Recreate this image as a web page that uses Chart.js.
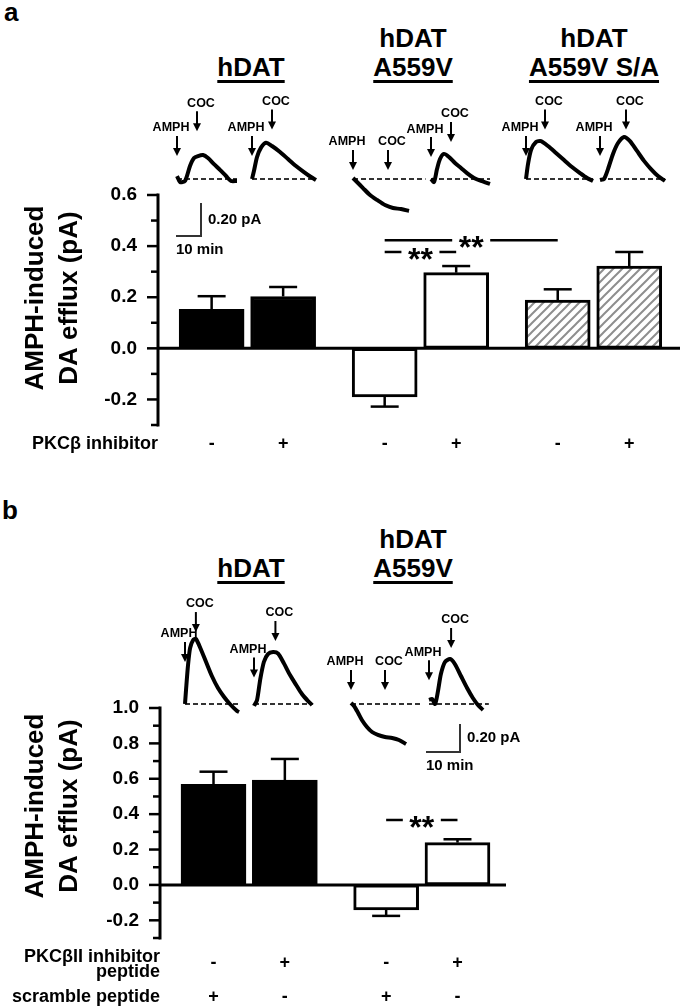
<!DOCTYPE html>
<html>
<head>
<meta charset="utf-8">
<script src="https://cdn.jsdelivr.net/npm/chart.js@4.4.1/dist/chart.umd.min.js"></script>
<style>
  html, body { margin: 0; padding: 0; background: #fff; }
  body { position: relative; width: 681px; height: 1007px; overflow: hidden;
         font-family: 'Liberation Sans', Arial, sans-serif; font-weight: bold; color: #000; }
  canvas { position: absolute; }
  .tag { position: absolute; font-size: 26px; line-height: 27px; }
  .ttl { position: absolute; width: 240px; margin-left: -120px; text-align: center;
         font-size: 26px; line-height: 29px; white-space: nowrap; }
  .ttl u { text-decoration-thickness: 3px; text-underline-offset: 4px; }
</style>
</head>
<body>
<div class="tag" style="left:4px;top:-1px">a</div>
<div class="ttl" style="left:251px;top:24px">&nbsp;<br><u>hDAT</u></div>
<div class="ttl" style="left:413px;top:24px">hDAT<br><u>A559V</u></div>
<div class="ttl" style="left:594px;top:24px">hDAT<br><u>A559V S/A</u></div>
<canvas id="chartA" width="681" height="480" style="left:0;top:0"></canvas>

<div class="tag" style="left:2px;top:497px">b</div>
<div class="ttl" style="left:251px;top:525px">&nbsp;<br><u>hDAT</u></div>
<div class="ttl" style="left:413px;top:525px">hDAT<br><u>A559V</u></div>
<canvas id="chartB" width="681" height="527" style="left:0;top:480px"></canvas>

<script>
// ---------- panel a : bars ----------
const slotA   = [0.75, 1.75, 3.17, 4.17, 5.59, 6.59];        // x slot of each bar
const effluxA = [0.153, 0.203, -0.190, 0.296, 0.189, 0.322]; // pA
const semA    = [0.051, 0.037, 0.038, 0.026, 0.042, 0.055];
const pkcA    = ['-', '+', '-', '+', '-', '+'];
const sigA    = [[2, 3, 0.377], [2, 4, 0.423]];             // bar i, bar j, height
const yTicksA  = [-0.3, -0.2, -0.1, 0.0, 0.1, 0.2, 0.3, 0.4, 0.5, 0.6];
const yLabelsA = ['', '-0.2', '', '0.0', '', '0.2', '', '0.4', '', '0.6'];

// ---------- panel b : bars ----------
const slotB    = [0.75, 1.75, 3.17, 4.17];
const effluxB  = [0.569, 0.593, -0.141, 0.239];
const semB     = [0.071, 0.119, 0.034, 0.019];
const inhibB   = ['-', '+', '-', '+'];
const scrambleB = ['+', '-', '+', '-'];
const sigB     = [[2, 3, 0.367]];
const yTicksB  = [-0.3, -0.2, -0.1, 0.0, 0.1, 0.2, 0.3, 0.4, 0.5, 0.6, 0.7, 0.8, 0.9, 1.0];
const yLabelsB = ['', '-0.2', '', '0.0', '', '0.2', '', '0.4', '', '0.6', '', '0.8', '', '1.0'];

// ---------- inset current traces: [time (min), current (pA)] ----------
const traceA1 = [[0,0.018],[1.2,-0.018],[3.2,-0.012],[5.2,0.079],[6.8,0.127],[8.4,0.139],[10.4,0.145],[12.4,0.127],[14.8,0.09],[17.2,0.055],[19.6,0.018],[21.6,-0.012],[24,-0.012]];
const traceA2 = [[0,0],[0.8,0.05],[2,0.133],[3.6,0.19],[5.6,0.22],[8,0.2],[11.2,0.164],[14.4,0.121],[17.6,0.079],[20.8,0.042],[23.6,0.012],[25.6,-0.006]];
const traceA3 = [[0,0.006],[1.6,-0.018],[4,-0.055],[6.8,-0.097],[9.6,-0.127],[12.8,-0.158],[16,-0.176],[19.2,-0.182],[22.4,-0.194]];
const traceA4 = [[0,0],[1.2,-0.018],[2.4,0.06],[3.6,0.121],[5.2,0.152],[7.2,0.133],[9.6,0.097],[12,0.067],[14.4,0.036],[17.2,0.006],[20,-0.012],[23.6,-0.03]];
const traceA5 = [[0,0],[0.8,0.09],[2,0.176],[4,0.224],[6,0.23],[8.8,0.2],[12,0.158],[15.2,0.115],[18.4,0.073],[21.6,0.036],[24.4,0.006],[26.8,-0.012]];
const traceA6 = [[0,-0.006],[1.6,0],[3.2,0.06],[5.2,0.152],[7.2,0.218],[9.6,0.255],[12,0.23],[14.8,0.17],[17.6,0.11],[20.4,0.06],[23.2,0.018],[26,-0.012]];
const traceB1 = [[0,0],[0.3,0.1],[0.9,0.28],[1.5,0.4],[2.4,0.457],[3.2,0.465],[4.5,0.4],[6.2,0.3],[7.9,0.2],[9.7,0.114],[11.5,0.05],[13.2,0.0],[15.3,-0.05],[15.9,-0.057]];
const traceB2 = [[0,-0.014],[0.9,0.029],[1.8,0.171],[2.9,0.3],[4.1,0.357],[5.6,0.371],[7.1,0.36],[8.8,0.29],[10.6,0.207],[12.4,0.136],[14.1,0.071],[15.9,0.021],[17.1,-0.007]];
const traceB3 = [[0,0.007],[0.9,-0.014],[2.1,-0.064],[3.2,-0.114],[4.7,-0.164],[6.2,-0.2],[7.9,-0.221],[10,-0.236],[12.1,-0.243],[14.1,-0.257],[16.2,-0.286]];
const traceB4 = [[0,0.029],[0.9,0.036],[1.8,0],[2.6,0.086],[3.5,0.214],[4.7,0.3],[6.2,0.321],[7.6,0.286],[9.4,0.2],[11.2,0.114],[12.9,0.043],[14.4,-0.007],[15.9,-0.043]];

// drug application: [label, time (min), arrow tip (pA)]
const eventsA = [
  [['AMPH', 0, 0.14], ['COC', 8, 0.29]],
  [['AMPH', 0, 0.14], ['COC', 8, 0.30]],
  [['AMPH', 0, 0.055], ['COC', 14, 0.055]],
  [['AMPH', 0, 0.133], ['COC', 8, 0.224]],
  [['AMPH', 0, 0.14], ['COC', 7.6, 0.30]],
  [['AMPH', 0, 0.14], ['COC', 10.4, 0.30]]
];
const eventsB = [
  [['AMPH', 0, 0.30], ['COC', 3.2, 0.514]],
  [['AMPH', 0, 0.19], ['COC', 6.3, 0.45]],
  [['AMPH', 0, 0.10], ['COC', 10, 0.10]],
  [['AMPH', 0, 0.17], ['COC', 6.5, 0.40]]
];
const baseEndA = [24, 25.6, 29, 23.6, 26.8, 26];   // min
const baseEndB = [15.9, 17.4, 20.9, 17.6];
const scaleBar = [[-10, 0], [0, 0], [0, 0.2]];     // 10 min / 0.20 pA

// ---------- layout ----------
const insetA = { at: [[177,179],[252,179],[353,179],[431,179],[526,179],[600,179]], bar: [201,236],
                 pxMin: 2.5, pxPA: 165, x0: -12, x1: 32, y0: -0.4, y1: 0.8 };
const insetB = { at: [[185,704],[254,704],[351,704],[429,704]], bar: [460,752],
                 pxMin: 3.4, pxPA: 140, x0: -10, x1: 30, y0: -0.4, y1: 0.9 };

Chart.defaults.font.family = "'Liberation Sans', Arial, sans-serif";
Chart.defaults.color = '#000';
Chart.defaults.animation = false;
Chart.defaults.responsive = false;
Chart.defaults.plugins.legend.display = false;
Chart.defaults.plugins.tooltip.enabled = false;
const FONT = Chart.defaults.font.family;

function hatch(ctx) {
  const c = document.createElement('canvas');
  c.width = c.height = 9;
  const g = c.getContext('2d');
  g.fillStyle = '#fff'; g.fillRect(0, 0, 9, 9);
  g.strokeStyle = '#8e8e8e'; g.lineWidth = 2;
  g.beginPath();
  g.moveTo(0, 9); g.lineTo(9, 0);
  g.moveTo(-2, 2); g.lineTo(2, -2);
  g.moveTo(7, 11); g.lineTo(11, 7);
  g.stroke();
  return ctx.createPattern(c, 'repeat');
}

function panelDeco(d) {
  return {
    id: 'panelDeco',
    afterDatasetsDraw(chart) {
      const { ctx, chartArea: ca, scales: { x, y } } = chart;
      const seg = (x1, y1, x2, y2) => { ctx.beginPath(); ctx.moveTo(x1, y1); ctx.lineTo(x2, y2); ctx.stroke(); };
      ctx.save();
      ctx.strokeStyle = '#000'; ctx.fillStyle = '#000';

      // y axis with long (labelled) and short ticks
      ctx.lineWidth = 3;
      seg(ca.left, ca.top - 1.5, ca.left, ca.bottom + 1.5);
      ctx.lineWidth = 2.5;
      y.ticks.forEach((t, i) => {
        const py = y.getPixelForValue(t.value);
        seg(ca.left - (d.yLabels[i] ? 11 : 7), py, ca.left, py);
      });

      // zero line
      ctx.lineWidth = 3;
      const zy = y.getPixelForValue(0);
      seg(ca.left, zy, ca.right, zy);

      // error bars (one-sided, away from zero)
      ctx.lineWidth = 2.5;
      d.values.forEach((v, i) => {
        const px = x.getPixelForValue(d.slots[i]);
        const e = v + Math.sign(v) * d.sem[i];
        const py = y.getPixelForValue(v), pe = y.getPixelForValue(e);
        seg(px, py, px, pe);
        seg(px - 14, pe, px + 14, pe);
      });

      // significance brackets
      ctx.font = 'bold 32px ' + FONT;
      ctx.textAlign = 'center'; ctx.textBaseline = 'alphabetic';
      d.sig.forEach(([i, j, v]) => {
        const x1 = x.getPixelForValue(d.slots[i]), x2 = x.getPixelForValue(d.slots[j]);
        const py = y.getPixelForValue(v), mid = (x1 + x2) / 2;
        seg(x1, py, mid - 19, py);
        seg(mid + 19, py, x2, py);
        ctx.fillText('**', mid, py + 18);
      });

      // treatment rows under the axis
      ctx.font = 'bold 18px ' + FONT;
      ctx.textBaseline = 'middle';
      d.rows.forEach(r => {
        ctx.textAlign = 'right';
        r.text.forEach((s, k) => ctx.fillText(s, ca.left, ca.bottom + r.dy[k]));
        ctx.textAlign = 'center';
        r.signs.forEach((s, i) => ctx.fillText(s, x.getPixelForValue(d.slots[i]), ca.bottom + r.signDy));
      });

      // y axis title
      ctx.font = 'bold 26px ' + FONT;
      ctx.textAlign = 'center';
      [['AMPH-induced', 36], ['DA efflux (pA)', 70]].forEach(([s, tx]) => {
        ctx.save();
        ctx.translate(tx, d.titleY);
        ctx.rotate(-Math.PI / 2);
        ctx.fillText(s, 0, 0);
        ctx.restore();
      });
      ctx.restore();
    }
  };
}

function barPanel(id, d) {
  const ctx = document.getElementById(id).getContext('2d');
  const fills = d.fills.map(f => f === 'hatch' ? hatch(ctx) : f);
  return new Chart(ctx, {
    type: 'bar',
    data: {
      datasets: [{
        data: d.values.map((v, i) => ({ x: d.slots[i], y: v })),
        backgroundColor: fills,
        borderColor: '#000',
        borderWidth: 3,
        borderSkipped: false,
        barThickness: 65
      }]
    },
    options: {
      layout: { padding: d.padding },
      scales: {
        x: { type: 'linear', display: false, offset: false, min: 0, max: d.xMax },
        y: {
          min: d.yTicks[0], max: d.yTicks[d.yTicks.length - 1],
          grid: { display: false, drawTicks: false },
          border: { display: false },
          afterBuildTicks: s => { s.ticks = d.yTicks.map(v => ({ value: v })); },
          afterFit: s => { s.width = d.axisX; },
          ticks: {
            autoSkip: false, padding: 21, color: '#000',
            font: { size: 19, weight: 'bold' },
            callback: (v, i) => d.yLabels[i]
          }
        }
      }
    },
    plugins: [panelDeco(d)]
  });
}

function insetCanvas(at, P) {
  const cv = document.createElement('canvas');
  cv.width = Math.round((P.x1 - P.x0) * P.pxMin);
  cv.height = Math.round((P.y1 - P.y0) * P.pxPA);
  cv.style.left = (at[0] + P.x0 * P.pxMin) + 'px';
  cv.style.top = (at[1] - P.y1 * P.pxPA) + 'px';
  document.body.appendChild(cv);
  return cv;
}

const insetScales = P => ({
  x: { type: 'linear', display: false, min: P.x0, max: P.x1 },
  y: { type: 'linear', display: false, min: P.y0, max: P.y1 }
});

const arrows = events => ({
  id: 'arrows',
  afterDatasetsDraw(chart) {
    const { ctx, scales: { x, y } } = chart;
    ctx.save();
    ctx.strokeStyle = '#000'; ctx.fillStyle = '#000'; ctx.lineWidth = 2;
    ctx.font = 'bold 12.5px ' + FONT;
    ctx.textAlign = 'center'; ctx.textBaseline = 'middle';
    events.forEach(([name, t, tip]) => {
      const px = x.getPixelForValue(t), py = y.getPixelForValue(tip);
      ctx.beginPath(); ctx.moveTo(px, py - 20); ctx.lineTo(px, py - 6); ctx.stroke();
      ctx.beginPath(); ctx.moveTo(px - 4, py - 8); ctx.lineTo(px + 4, py - 8); ctx.lineTo(px, py); ctx.closePath(); ctx.fill();
      ctx.fillText(name, px + (name === 'AMPH' ? -6 : 4), py - 28);
    });
    ctx.restore();
  }
});

function trace(points, events, baseEnd, at, P) {
  new Chart(insetCanvas(at, P), {
    type: 'line',
    data: {
      datasets: [
        { data: points.map(p => ({ x: p[0], y: p[1] })), borderColor: '#000', borderWidth: 4,
          pointRadius: 0, tension: 0.25, clip: false },
        { data: [{ x: 0, y: 0 }, { x: baseEnd, y: 0 }], borderColor: '#333', borderWidth: 2,
          borderDash: [5, 3], pointRadius: 0 }
      ]
    },
    options: { scales: insetScales(P) },
    plugins: [arrows(events)]
  });
}

function scale(P) {
  new Chart(insetCanvas(P.bar, P), {
    type: 'line',
    data: { datasets: [{ data: scaleBar.map(p => ({ x: p[0], y: p[1] })), borderColor: '#333',
                         borderWidth: 2, pointRadius: 0, tension: 0 }] },
    options: { scales: insetScales(P) },
    plugins: [{
      id: 'scaleText',
      afterDatasetsDraw(chart) {
        const { ctx, scales: { x, y } } = chart;
        ctx.save();
        ctx.fillStyle = '#000'; ctx.font = 'bold 15px ' + FONT;
        ctx.textAlign = 'left'; ctx.textBaseline = 'middle';
        ctx.fillText('0.20 pA', x.getPixelForValue(0) + 7, y.getPixelForValue(0.1));
        ctx.fillText('10 min', x.getPixelForValue(-10), y.getPixelForValue(0) + 14);
        ctx.restore();
      }
    }]
  });
}

barPanel('chartA', {
  slots: slotA, values: effluxA, sem: semA, sig: sigA,
  yTicks: yTicksA, yLabels: yLabelsA,
  fills: ['#000', '#000', '#fff', '#fff', 'hatch', 'hatch'],
  xMax: 7.3, axisX: 158, titleY: 298,
  padding: { top: 195, right: 1, bottom: 55, left: 0 },
  rows: [{ text: ['PKCβ inhibitor'], dy: [19], signs: pkcA, signDy: 19 }]
});

barPanel('chartB', {
  slots: slotB, values: effluxB, sem: semB, sig: sigB,
  yTicks: yTicksB, yLabels: yLabelsB,
  fills: ['#000', '#000', '#fff', '#fff'],
  xMax: 4.85, axisX: 160, titleY: 326,
  padding: { top: 228, right: 175, bottom: 69, left: 0 },
  rows: [
    { text: ['PKCβII inhibitor', 'peptide'], dy: [19, 34], signs: inhibB, signDy: 25 },
    { text: ['scramble peptide'], dy: [59], signs: scrambleB, signDy: 59 }
  ]
});

[traceA1, traceA2, traceA3, traceA4, traceA5, traceA6].forEach((tr, i) =>
  trace(tr, eventsA[i], baseEndA[i], insetA.at[i], insetA));
[traceB1, traceB2, traceB3, traceB4].forEach((tr, i) =>
  trace(tr, eventsB[i], baseEndB[i], insetB.at[i], insetB));
scale(insetA);
scale(insetB);
</script>
</body>
</html>
